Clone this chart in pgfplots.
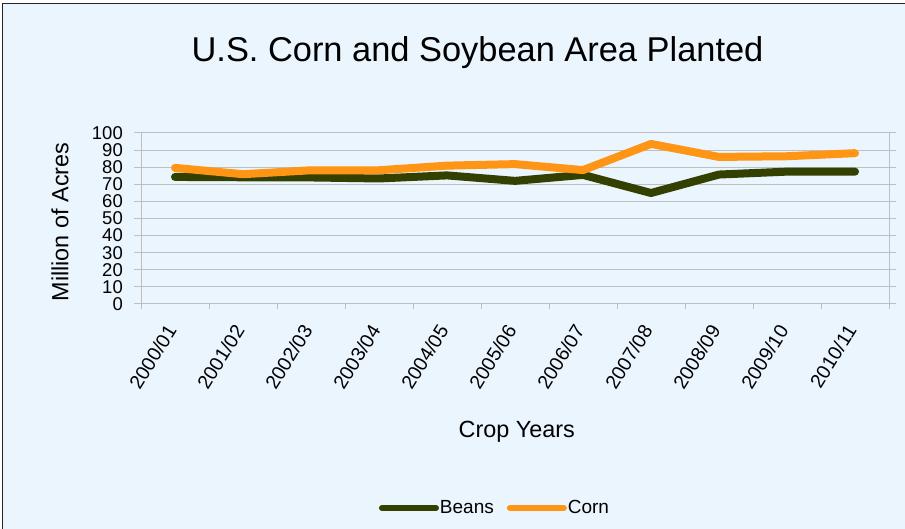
\documentclass[border=0pt]{standalone}
\usepackage{fontspec}
\setmainfont{Liberation Sans}
\usepackage{pgfplots}
\pgfplotsset{compat=1.18}

\definecolor{panelbg}{HTML}{EBF5FE}
\definecolor{gridgray}{HTML}{BFBFBF}
\definecolor{beans}{HTML}{334000}
\definecolor{corn}{HTML}{FF9514}

% Planted area, million acres
\pgfplotstableread{
idx beans corn
0.5 74.3 79.6
1.5 74.1 75.9
2.5 74.0 78.2
3.5 73.4 78.2
4.5 75.2 80.9
5.5 72.0 81.8
6.5 75.5 78.3
7.5 64.9 93.6
8.5 75.7 86.0
9.5 77.4 86.4
10.5 77.4 88.2
}\areadata

\begin{document}
\begin{tikzpicture}[x=1bp,y=1bp]
\path[use as bounding box] (0,0) rectangle (905,529);
\fill[white] (0,0) rectangle (905,529);
\fill[panelbg] (2.8,0) rectangle (905,525.3);
\draw[black!85, line width=1.3bp] (2.8,0) -- (2.8,525.3) -- (905,525.3);

\begin{axis}[
  at={(141bp,225bp)}, anchor=south west,
  scale only axis, width=748bp, height=171bp,
  xmin=0, xmax=11, ymin=0, ymax=100,
  clip=false,
  axis line style={gridgray, line width=1bp},
  ytick={0,10,...,100},
  ymajorgrids, grid style={gridgray, line width=1bp},
  tick align=outside, major tick length=7bp,
  tick style={gridgray, line width=1bp},
  xtick={0.5,1.5,...,10.5},
  xtick style={draw=none},
  xticklabels={2000/01,2001/02,2002/03,2003/04,2004/05,2005/06,2006/07,2007/08,2008/09,2009/10,2010/11},
  x tick label style={xshift=-3bp, yshift=-15bp, rotate=58, anchor=east, font=\fontsize{19.5bp}{21bp}\selectfont, inner sep=1bp},
  y tick label style={xshift=-10bp, font=\fontsize{18.5bp}{20bp}\selectfont, inner sep=1bp},
  /pgf/number format/assume math mode=true,
  title={U.S. Corn and Soybean Area Planted},
  title style={at={(axis description cs:0.4499,1.382)}, anchor=base, font=\fontsize{34.4bp}{40bp}\selectfont},
  xlabel={Crop Years},
  xlabel style={at={(axis description cs:0.5023,-0.778)}, anchor=base, font=\fontsize{23.4bp}{28bp}\selectfont},
  ylabel={Million of Acres},
  ylabel style={at={(axis description cs:-0.1083,0.4795)}, anchor=center, font=\fontsize{23.4bp}{28bp}\selectfont},
  legend style={at={(axis description cs:0.4726,-1.193)}, anchor=center, draw=none, fill=none,
    legend columns=2, font=\fontsize{19bp}{22bp}\selectfont,
    /tikz/every even column/.append style={column sep=12bp},
    nodes={inner sep=1bp}},
  legend image code/.code={\draw[#1, line width=6bp, line cap=round] (0bp,0bp) -- (54bp,0bp);},
]
\pgfplotsinvokeforeach{0,1,...,11}{
  \draw[gridgray, line width=1bp] (axis cs:#1,0) -- ++(0bp,-5bp);
}
\addplot[beans, line width=8bp, line cap=round, line join=round] table[x=idx, y=beans] {\areadata};
\addlegendentry{Beans}
\addplot[corn, line width=8bp, line cap=round, line join=round] table[x=idx, y=corn] {\areadata};
\addlegendentry{Corn}
\end{axis}
\end{tikzpicture}
\end{document}
